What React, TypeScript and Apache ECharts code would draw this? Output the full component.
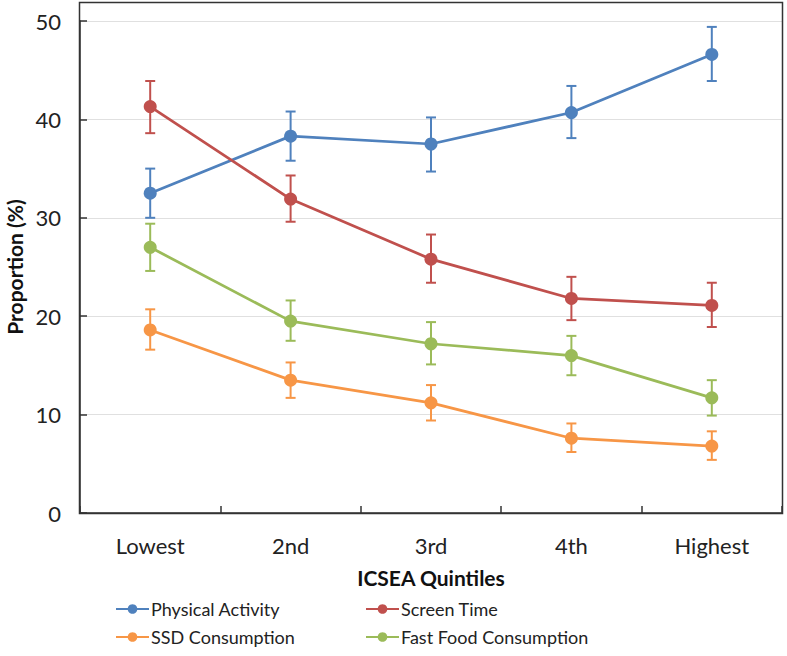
import React, { useEffect, useRef } from "react";
import * as echarts from "echarts";

const categories = ["Lowest", "2nd", "3rd", "4th", "Highest"];

const physicalActivity = [32.5, 38.3, 37.5, 40.7, 46.6];
const physicalActivityLow = [30.0, 35.8, 34.7, 38.1, 43.9];
const physicalActivityHigh = [35.0, 40.8, 40.2, 43.4, 49.4];

const screenTime = [41.3, 31.9, 25.8, 21.8, 21.1];
const screenTimeLow = [38.6, 29.6, 23.4, 19.6, 18.9];
const screenTimeHigh = [43.9, 34.3, 28.3, 24.0, 23.4];

const ssdConsumption = [18.6, 13.5, 11.2, 7.6, 6.8];
const ssdConsumptionLow = [16.6, 11.7, 9.4, 6.2, 5.4];
const ssdConsumptionHigh = [20.7, 15.3, 13.0, 9.1, 8.3];

const fastFood = [27.0, 19.5, 17.2, 16.0, 11.7];
const fastFoodLow = [24.6, 17.5, 15.1, 14.0, 9.9];
const fastFoodHigh = [29.4, 21.6, 19.4, 18.0, 13.5];

const yTicks = [0, 10, 20, 30, 40, 50];

const FONT = "Lato";

const seriesDefs = [
  { name: "Physical Activity", color: "#4F81BD", values: physicalActivity, low: physicalActivityLow, high: physicalActivityHigh },
  { name: "Screen Time", color: "#C0504D", values: screenTime, low: screenTimeLow, high: screenTimeHigh },
  { name: "SSD Consumption", color: "#F79646", values: ssdConsumption, low: ssdConsumptionLow, high: ssdConsumptionHigh },
  { name: "Fast Food Consumption", color: "#9BBB59", values: fastFood, low: fastFoodLow, high: fastFoodHigh },
];

export default function App() {
  const ref = useRef<HTMLDivElement>(null);
  useEffect(() => {
    if (!ref.current) return;
    const chart = echarts.init(ref.current, null, { renderer: "svg" });
    const series: any[] = [];
    seriesDefs.forEach((s) => {
      series.push({
        type: "custom",
        name: s.name + " err",
        data: categories.map((_, i) => [i, s.low[i], s.high[i]]),
        renderItem: (params: any, api: any) => {
          const x = api.value(0);
          const lo = api.coord([x, api.value(1)]);
          const hi = api.coord([x, api.value(2)]);
          const cap = 5;
          const st = { stroke: s.color, lineWidth: 2 };
          return {
            type: "group",
            children: [
              { type: "line", shape: { x1: lo[0], y1: lo[1], x2: hi[0], y2: hi[1] }, style: st },
              { type: "line", shape: { x1: lo[0] - cap, y1: lo[1], x2: lo[0] + cap, y2: lo[1] }, style: st },
              { type: "line", shape: { x1: hi[0] - cap, y1: hi[1], x2: hi[0] + cap, y2: hi[1] }, style: st },
            ],
          };
        },
        z: 2,
        silent: true,
      });
    });
    seriesDefs.forEach((s) => {
      series.push({
        type: "line",
        name: s.name,
        data: s.values,
        color: s.color,
        symbol: "circle",
        symbolSize: 13,
        lineStyle: { width: 2.75, color: s.color },
        itemStyle: { color: s.color },
        z: 3,
      });
    });
    const legendCommon = {
      orient: "vertical",
      top: 600,
      padding: 0,
      itemWidth: 33,
      itemHeight: 12,
      itemGap: 10,
      textStyle: { fontSize: 18, color: "#222", fontFamily: FONT, padding: [0, 0, 0, -3] },
      selectedMode: false,
    };
    chart.setOption({
      animation: false,
      backgroundColor: "#ffffff",
      textStyle: { fontFamily: FONT },
      grid: { left: 80, right: 5, top: 21, bottom: 143, containLabel: false, outerBoundsMode: "none" },
      xAxis: {
        type: "category",
        data: categories,
        boundaryGap: true,
        axisLine: { show: true, lineStyle: { color: "#333", width: 1.5 } },
        axisTick: { show: true, inside: true, length: 7, lineStyle: { color: "#333", width: 1.5 } },
        axisLabel: { fontSize: 22, color: "#222", margin: 21, fontFamily: FONT },
        name: "ICSEA Quintiles",
        nameLocation: "middle",
        nameGap: 54,
        nameTextStyle: { fontSize: 21, fontWeight: "bold", color: "#111", fontFamily: FONT },
      },
      yAxis: {
        type: "value",
        min: yTicks[0],
        max: yTicks[yTicks.length - 1],
        interval: 10,
        axisLine: { show: true, lineStyle: { color: "#333", width: 1.5 } },
        axisTick: { show: true, inside: true, length: 7, lineStyle: { color: "#333", width: 1.5 } },
        axisLabel: { fontSize: 22, color: "#222", margin: 19, fontFamily: FONT },
        splitLine: { show: true, lineStyle: { color: "#e0e0e0", width: 1 } },
        name: "Proportion (%)",
        nameLocation: "middle",
        nameGap: 54,
        nameRotate: 90,
        nameTextStyle: { fontSize: 21, fontWeight: "bold", color: "#111", fontFamily: FONT },
      },
      legend: [
        { ...legendCommon, data: ["Physical Activity", "SSD Consumption"], left: 115 },
        { ...legendCommon, data: ["Screen Time", "Fast Food Consumption"], left: 365 },
      ],
      graphic: [
        {
          type: "rect",
          shape: { x: 79.5, y: 2.5, width: 703, height: 511 },
          style: { fill: "none", stroke: "#333", lineWidth: 1.5 },
          silent: true,
          z: 1,
        },
      ],
      series,
    });
    return () => chart.dispose();
  }, []);
  return <div ref={ref} style={{ width: 787, height: 656, position: "absolute", left: 0, top: 0 }} />;
}
